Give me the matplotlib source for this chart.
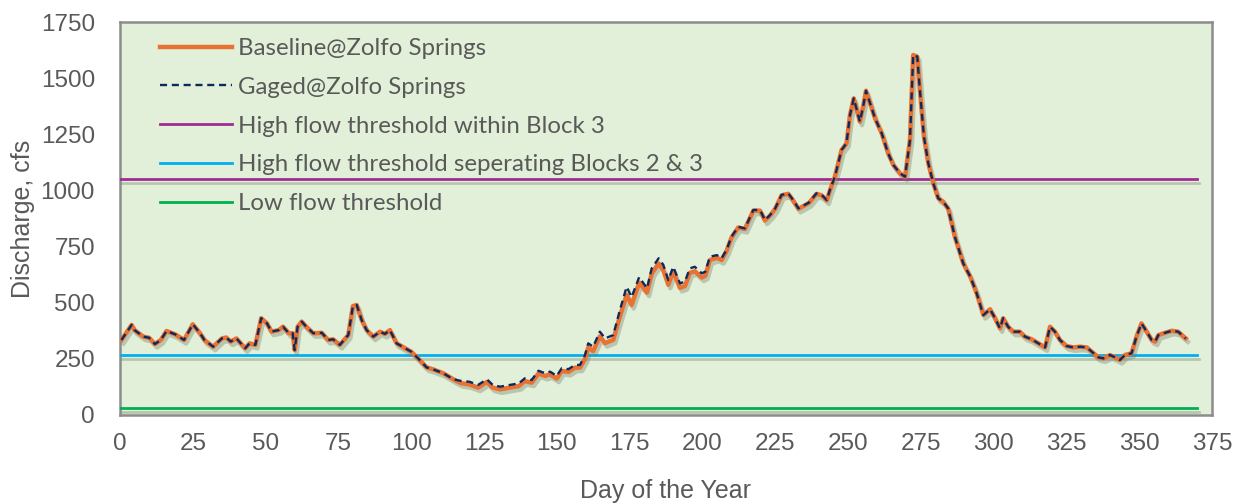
import matplotlib
matplotlib.use("Agg")
import matplotlib.pyplot as plt
import matplotlib.patheffects as pe

# day of year
days = [
    0.5, 4, 5, 8, 10, 12, 14, 16, 19, 22, 25, 27.5, 29, 32, 35, 36.5, 38, 40,
    43, 44.5, 46.5, 48.5, 50.5, 52, 54.5, 56, 58, 59.3, 60, 61, 62.4, 64,
    66.4, 69.3, 71.5, 73.2, 75.5, 78.4, 80, 81.3, 83, 84.7, 87, 89.3, 91,
    92.7, 95, 98, 100, 102.4, 105.3, 107.6, 111, 114.5, 117, 120, 123, 126,
    128, 130.5, 134, 137, 139, 141.4, 143.7, 146, 147.7, 150, 151.7, 154,
    156.3, 158, 159.7, 160.8, 162.5, 164.8, 166.6, 169.4, 171.7, 174, 175.7,
    178.3, 181, 182.6, 185, 186.6, 188.3, 190, 192.3, 194, 195.7, 197.4,
    199.8, 201, 202.6, 205, 206.6, 208.3, 210, 212.3, 214.6, 217.5, 219.8,
    221.5, 223.3, 225, 227.2, 229.5, 231.2, 233, 236.6, 239.2, 241, 242.7,
    243.8, 245.5, 247.8, 249.5, 250.7, 252, 254.1, 255.2, 256.2, 257.6,
    259.3, 261.6, 263.8, 265.6, 267.9, 269.6, 271.3, 272.4, 273.8, 274.7,
    276.1, 277.6, 279.3, 281, 282.7, 284.4, 286.7, 289.6, 292, 294.2, 296.5,
    298.8, 300.5, 302.2, 303.3, 305, 306.8, 309, 310.8, 313.1, 315.4, 317.7,
    319.4, 321.1, 322.8, 325.1, 327.4, 329.7, 332, 333.7, 336, 337.7, 340,
    341.7, 343.4, 345.1, 347.4, 349.1, 350.8, 352.6, 354.3, 355.5, 356.6,
    358.9, 361.2, 363.4, 366,
]

gaged = [
    334, 401, 378, 349, 344, 316, 334, 374, 359, 334, 404, 364, 334, 304, 341,
    345, 327, 341, 297, 319, 312, 431, 408, 371, 378, 393, 364, 364, 289, 393,
    416, 393, 364, 366, 334, 337, 312, 356, 485, 490, 423, 378, 349, 371, 361,
    378, 319, 297, 282, 252, 212, 203, 186, 159, 152, 148, 134, 159, 134, 126,
    134, 141, 163, 156, 197, 186, 193, 174, 208, 204, 223, 223, 267, 319, 304,
    371, 341, 356, 468, 571, 525, 614, 564, 653, 698, 668, 601, 660, 586, 594,
    653, 660, 631, 638, 705, 712, 698, 735, 794, 838, 831, 913, 913, 868, 891,
    920, 980, 987, 957, 920, 946, 987, 980, 957, 1002, 1061, 1180, 1210, 1336,
    1410, 1306, 1373, 1444, 1388, 1321, 1254, 1165, 1113, 1076, 1061, 1225,
    1603, 1596, 1447, 1239, 1121, 1032, 965, 950, 920, 794, 675, 616, 542, 445,
    471, 431, 386, 431, 393, 371, 371, 349, 337, 319, 301, 393, 371, 334, 307,
    301, 304, 301, 282, 257, 252, 267, 257, 245, 267, 275, 349, 408, 371, 334,
    327, 356, 366, 375, 371, 341,
]

baseline = [
    334, 401, 378, 349, 344, 316, 334, 374, 359, 334, 404, 364, 334, 304, 341,
    345, 327, 341, 297, 319, 312, 431, 408, 371, 378, 393, 364, 364, 289, 393,
    416, 393, 364, 366, 334, 337, 312, 356, 485, 490, 423, 378, 349, 371, 361,
    378, 319, 297, 282, 252, 212, 203, 186, 159, 142, 136, 122, 147, 122, 114,
    122, 129, 151, 144, 185, 174, 181, 162, 196, 192, 211, 211, 250, 300, 285,
    350, 320, 335, 440, 535, 490, 590, 545, 630, 675, 645, 580, 640, 566, 574,
    633, 640, 612, 620, 690, 700, 690, 730, 790, 835, 828, 910, 910, 866, 889,
    918, 978, 985, 955, 918, 944, 985, 978, 955, 1000, 1061, 1180, 1210, 1336,
    1410, 1306, 1373, 1444, 1388, 1321, 1254, 1165, 1113, 1076, 1061, 1225,
    1603, 1596, 1447, 1239, 1121, 1032, 965, 950, 920, 794, 675, 616, 542, 445,
    471, 431, 386, 431, 393, 371, 371, 349, 337, 319, 301, 393, 371, 334, 307,
    301, 304, 301, 282, 257, 252, 267, 257, 245, 267, 275, 349, 408, 371, 334,
    327, 356, 366, 375, 371, 341,
]

threshold_days = [0, 370]
high_block3 = 1050
high_block23 = 265
low_flow = 30

label_font = "Liberation Sans"
legend_font = "Lato"
text_grey = "#595959"

fig = plt.figure(figsize=(12.42, 5.04), dpi=100)
ax = fig.add_axes([0.0966, 0.1766, 0.8792, 0.7797])
ax.set_facecolor("#E2F0D9")

shadow = [pe.SimpleLineShadow(offset=(1.5, -2.5), shadow_color="#6b7a66", alpha=0.35), pe.Normal()]

ax.plot(days, baseline, color="#E97132", linewidth=3.2, label="Baseline@Zolfo Springs",
        path_effects=shadow, zorder=4)
ax.plot(days, gaged, color="#0E2A5C", linewidth=1.7, linestyle=(0, (3, 2)),
        label="Gaged@Zolfo Springs", zorder=5)
ax.plot(threshold_days, [high_block3] * 2, color="#A02B93", linewidth=2.0,
        label="High flow threshold within Block 3", path_effects=shadow, zorder=3)
ax.plot(threshold_days, [high_block23] * 2, color="#00B0F0", linewidth=2.0,
        label="High flow threshold seperating Blocks 2 & 3", path_effects=shadow, zorder=3)
ax.plot(threshold_days, [low_flow] * 2, color="#00B050", linewidth=2.0,
        label="Low flow threshold", path_effects=shadow, zorder=3)

ax.set_xlim(0, 375)
ax.set_ylim(0, 1750)
ax.set_xticks(range(0, 376, 25))
ax.set_yticks(range(0, 1751, 250))
ax.tick_params(length=0, labelsize=17.5, labelcolor=text_grey)
ax.tick_params(axis="x", pad=13)
ax.tick_params(axis="y", pad=18)
for lab in ax.get_xticklabels() + ax.get_yticklabels():
    lab.set_fontfamily(label_font)

for side in ["left", "right", "top", "bottom"]:
    ax.spines[side].set_color("#8c8c8c")
    ax.spines[side].set_linewidth(1.8)

ax.set_xlabel("Day of the Year", fontsize=18, color=text_grey, family=label_font, labelpad=17)
ax.set_ylabel("Discharge, cfs", fontsize=18, color=text_grey, family=label_font, labelpad=4)

leg = ax.legend(loc="upper left", bbox_to_anchor=(0.0256, 0.99), frameon=False,
                borderpad=0, handlelength=3.0, handletextpad=0.25, labelspacing=0.74,
                prop={"family": legend_font, "size": 17.3})
for t in leg.get_texts():
    t.set_color(text_grey)
for h in leg.get_lines():
    h.set_path_effects([])

fig.savefig("out.png", dpi=100)
